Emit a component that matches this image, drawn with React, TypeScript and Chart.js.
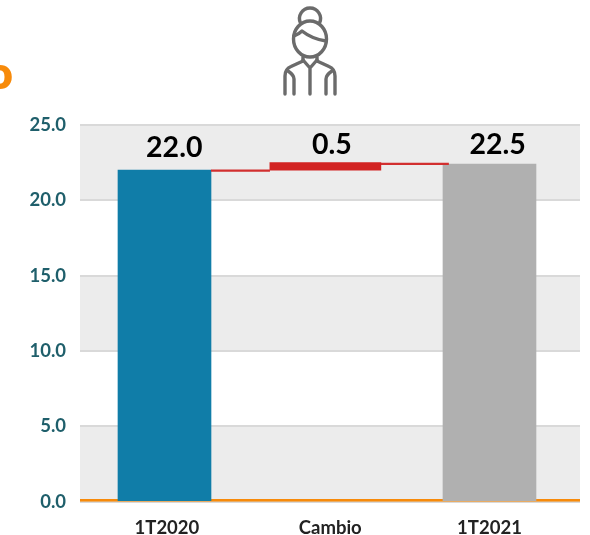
import React, { useEffect, useRef } from "react";
import { Chart, registerables } from "chart.js";

Chart.register(...registerables);

const categories = ["1T2020", "Cambio", "1T2021"];
const barPositions = [0, 0.99, 2];
const labelPositions = [0.015, 1.02, 2];
const valueLabels = ["22.0", "0.5", "22.5"];
const valueLabelPositions = [0.06, 1.03, 2.05];
const labelAnchors = [22.9, 23.1, 23.1];
const startValue = 22;
const changeTop = 22.5;
const endValue = 22.4;
const connectorA = [{ x: 0.286, y: 21.97 }, { x: 0.649, y: 21.97 }];
const connectorB = [{ x: 1.332, y: 22.42 }, { x: 1.75, y: 22.42 }];
const bands = [[20, 25], [10, 15], [0, 5]];
const xMin = -0.52;
const xMax = 2.557;

const LATO = "Lato, 'Liberation Sans', sans-serif";

const decorPlugin = {
  id: "decor",
  beforeDraw(chart: any) {
    const { ctx, chartArea, scales } = chart;
    ctx.save();
    ctx.fillStyle = "#ececec";
    for (const [a, b] of bands) {
      const top = scales.y.getPixelForValue(b);
      const bottom = scales.y.getPixelForValue(a);
      ctx.fillRect(chartArea.left, top, chartArea.right - chartArea.left, bottom - top);
    }
    ctx.fillStyle = "#f78a0a";
    ctx.font = `800 45px ${LATO}`;
    ctx.textAlign = "right";
    ctx.textBaseline = "alphabetic";
    ctx.fillText("o", 13, 89);
    ctx.restore();
  },
  afterDatasetsDraw(chart: any) {
    const { ctx, scales } = chart;
    ctx.save();
    ctx.fillStyle = "#000";
    ctx.font = `700 28.5px ${LATO}`;
    ctx.textAlign = "center";
    ctx.textBaseline = "alphabetic";
    valueLabels.forEach((text, i) => {
      const x = scales.x.getPixelForValue(valueLabelPositions[i]);
      ctx.fillText(text, x, scales.y.getPixelForValue(labelAnchors[i]));
    });
    ctx.restore();
  },
};

export default function App() {
  const ref = useRef<HTMLCanvasElement>(null);
  useEffect(() => {
    document.body.style.margin = "0";
    const chart = new Chart(ref.current!, {
      type: "bar",
      plugins: [decorPlugin],
      data: {
        datasets: [
          {
            type: "bar",
            data: [
              { x: barPositions[0], y: startValue },
              { x: barPositions[2], y: endValue },
            ],
            backgroundColor: ["#107da8", "#b0b0b0"],
            barThickness: 93,
            grouped: false,
            order: 2,
          },
          {
            type: "bar",
            data: [{ x: barPositions[1], y: [startValue, changeTop] }],
            backgroundColor: "#d22322",
            barThickness: 111,
            grouped: false,
            order: 2,
          },
          {
            type: "line",
            data: connectorA,
            borderColor: "#d22f2f",
            borderWidth: 2.2,
            pointRadius: 0,
            order: 1,
          },
          {
            type: "line",
            data: connectorB,
            borderColor: "#d22f2f",
            borderWidth: 2.2,
            pointRadius: 0,
            order: 1,
          },
          {
            type: "line",
            data: [{ x: xMin, y: 0.09 }, { x: xMax, y: 0.09 }],
            borderColor: "#f78a0a",
            borderWidth: 2.7,
            pointRadius: 0,
            order: 3,
          },
        ] as any,
      },
      options: {
        responsive: false,
        animation: false,
        layout: { padding: { top: 125, right: 10, bottom: 0, left: 0 } },
        plugins: { legend: { display: false }, tooltip: { enabled: false } },
        scales: {
          x: {
            type: "linear",
            offset: false,
            min: xMin,
            max: xMax,
            afterBuildTicks(axis: any) {
              axis.ticks = labelPositions.map((value) => ({ value }));
            },
            afterFit(axis: any) {
              axis.height = 33.3;
            },
            grid: { display: false },
            border: { display: false },
            ticks: {
              autoSkip: false,
              maxRotation: 0,
              padding: 7,
              color: "#222",
              font: { family: LATO, size: 18.5, weight: "bold" },
              callback(value: any) {
                return categories[labelPositions.indexOf(value)] ?? "";
              },
            },
          },
          y: {
            min: 0,
            max: 25,
            afterFit(axis: any) {
              axis.width = 80;
            },
            grid: { color: "#d9d9d9", lineWidth: 2, drawTicks: false },
            border: { display: false },
            ticks: {
              stepSize: 5,
              padding: 14,
              color: "#1f5f6b",
              font: { family: LATO, size: 18.5, weight: "bold" },
              callback(value: any) {
                return Number(value).toFixed(1);
              },
            },
          },
        },
      } as any,
    });
    return () => chart.destroy();
  }, []);

  const stroke = { fill: "none", stroke: "#6b6b6b", strokeWidth: 3.4, strokeLinecap: "round", strokeLinejoin: "round" } as const;
  return (
    <div style={{ position: "relative", width: 590, height: 535 }}>
      <canvas ref={ref} width={590} height={535} style={{ display: "block" }} />
      <svg width={590} height={110} style={{ position: "absolute", left: 0, top: 0 }}>
        <g {...stroke}>
          <path d="M300.5 23 A10.5 10.5 0 1 1 319.5 23" />
          <ellipse cx={310} cy={39} rx={16.5} ry={18} />
          <path d="M294 36 Q299 34 302 31 Q312 39 326 41" />
          <path d="M285 94 V76 Q285 69 291 66.5 L303 61 V57 M335 94 V76 Q335 69 329 66.5 L317 61 V57" />
          <path d="M303 60 L310 68 L317 60 M310 68 V94" />
          <path d="M294 94 V79 Q294 75 288 71 M326 94 V79 Q326 75 332 71" />
        </g>
      </svg>
    </div>
  );
}
